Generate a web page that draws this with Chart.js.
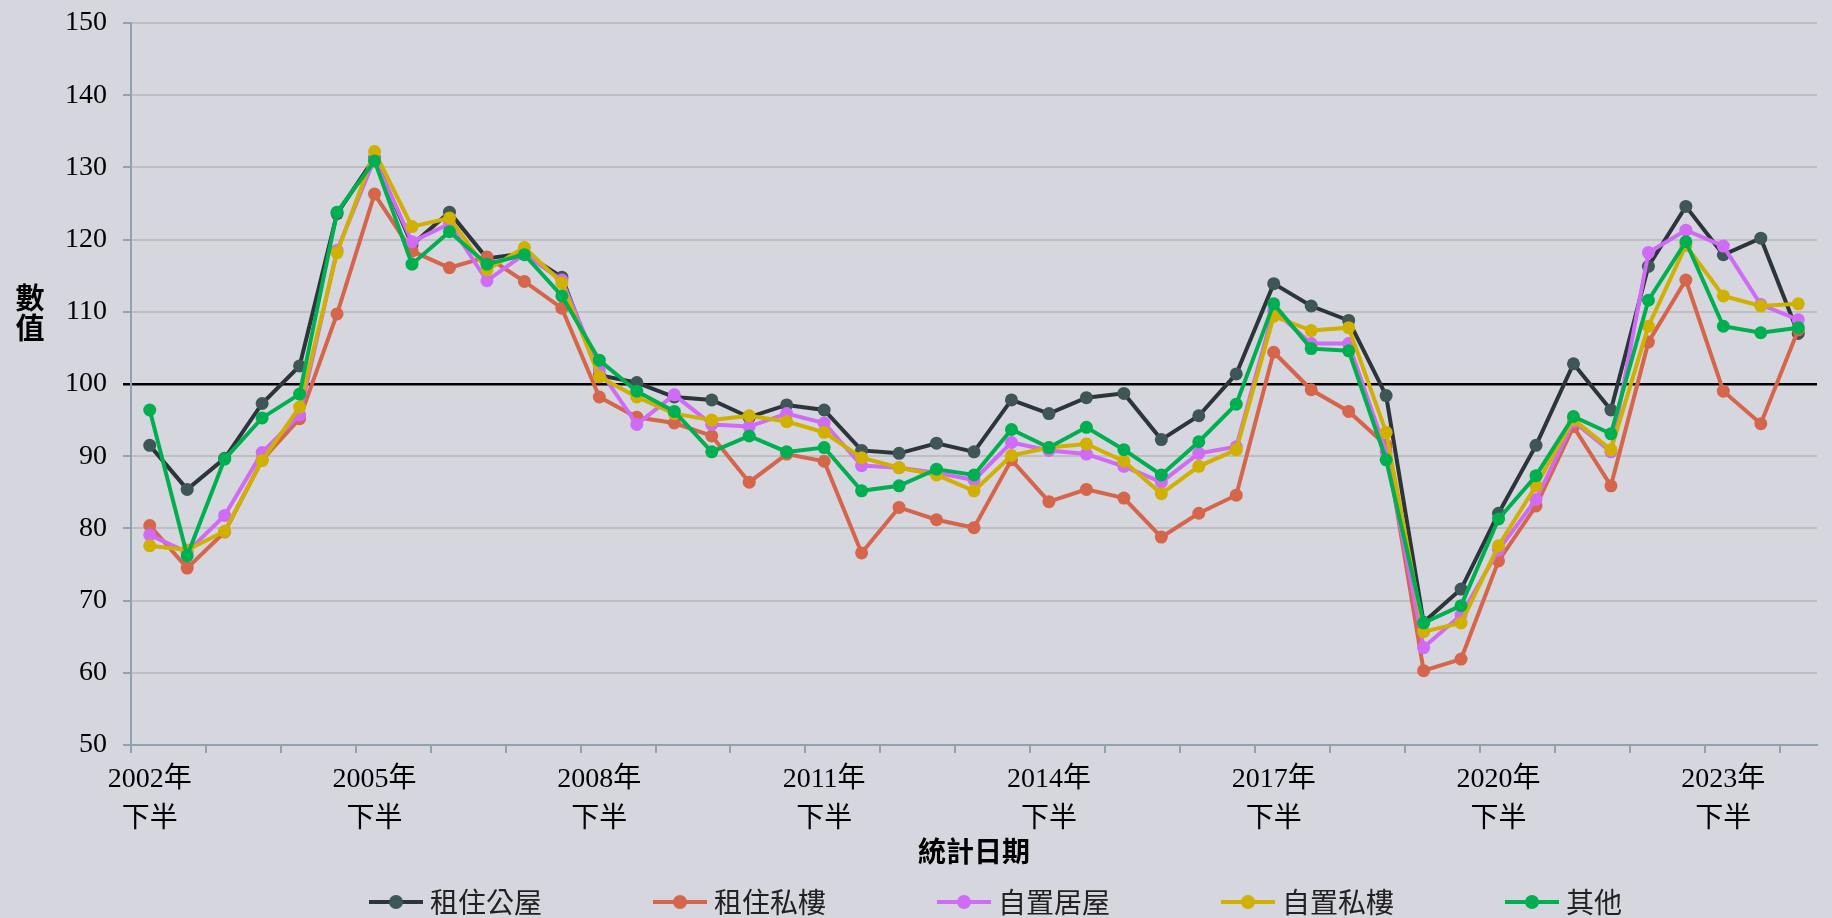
<!DOCTYPE html>
<html lang="zh-Hant">
<head>
<meta charset="UTF-8">
<title>數值 - 統計日期</title>
<style>
  html, body { margin: 0; padding: 0; background: #d5d6de; }
  #wrap { width: 1832px; height: 918px; position: relative; }
</style>
</head>
<body>
<div id="wrap"><canvas id="myChart"></canvas></div>

<script src="https://cdn.jsdelivr.net/npm/chart.js@4/dist/chart.umd.min.js"></script>
<script>
// categories: half-years from 2002 H2 to 2024 H2
var categories = [];
for (var y = 2002; y <= 2024; y++) {
    if (y > 2002) categories.push(y + '年上半');
    categories.push(y + '年下半');
}

var seriesNames = ['租住公屋', '租住私樓', '自置居屋', '自置私樓', '其他'];

var publicRent = [91.5, 85.4, 89.7, 97.3, 102.5, 123.6, 131.3, 119.3, 123.8, 117.4,
    118.1, 114.8, 101.2, 100.2, 98.2, 97.8, 95.4, 97.1, 96.4, 90.8,
    90.4, 91.8, 90.6, 97.8, 95.9, 98.1, 98.7, 92.3, 95.6, 101.4,
    113.9, 110.8, 108.8, 98.4, 67.0, 71.6, 82.1, 91.5, 102.8, 96.4,
    116.3, 124.6, 117.9, 120.2, 107.0];

var privateRent = [80.4, 74.5, 79.5, 89.5, 95.2, 109.7, 126.3, 118.4, 116.1, 117.6,
    114.2, 110.5, 98.2, 95.4, 94.6, 92.8, 86.4, 90.3, 89.3, 76.6,
    82.9, 81.2, 80.1, 89.5, 83.7, 85.4, 84.2, 78.8, 82.1, 84.6,
    104.4, 99.2, 96.2, 91.5, 60.3, 61.9, 75.5, 83.1, 94.1, 85.9,
    105.8, 114.4, 99.0, 94.5, 107.5];

var subsidisedOwn = [79.1, 76.7, 81.8, 90.5, 95.7, 118.5, 131.2, 119.7, 122.2, 114.3,
    118.0, 114.4, 102.0, 94.4, 98.5, 94.4, 94.1, 95.9, 94.6, 88.7,
    88.4, 87.7, 86.7, 91.9, 90.8, 90.3, 88.6, 86.4, 90.4, 91.3,
    110.2, 105.6, 105.6, 90.6, 63.5, 68.0, 77.0, 84.0, 94.8, 90.6,
    118.2, 121.3, 119.1, 111.0, 108.9];

var privateOwn = [77.6, 77.0, 79.6, 89.4, 96.8, 118.2, 132.2, 121.8, 123.0, 115.8,
    118.9, 114.0, 101.0, 98.2, 95.9, 95.0, 95.6, 94.8, 93.3, 89.8,
    88.4, 87.4, 85.2, 90.1, 91.2, 91.7, 89.3, 84.8, 88.6, 90.9,
    109.4, 107.4, 107.8, 93.3, 65.7, 66.9, 77.6, 85.9, 95.1, 90.9,
    108.0, 119.2, 112.2, 110.8, 111.1];

var others = [96.4, 76.2, 89.6, 95.3, 98.6, 123.8, 130.9, 116.6, 121.1, 116.6,
    117.9, 112.2, 103.3, 99.0, 96.2, 90.6, 92.8, 90.6, 91.2, 85.2,
    85.9, 88.2, 87.4, 93.7, 91.2, 94.0, 90.9, 87.4, 92.0, 97.2,
    111.1, 104.9, 104.6, 89.5, 66.9, 69.3, 81.3, 87.3, 95.5, 93.1,
    111.6, 119.7, 108.0, 107.1, 107.8];

var yTicks = [50, 60, 70, 80, 90, 100, 110, 120, 130, 140, 150];

var lineColors = ['#2c363a', '#d5654b', '#cf6bf5', '#d0b000', '#00b050'];
var dotColors  = ['#3e5656', '#d5654b', '#cf6bf5', '#d0b000', '#00b050'];
var allSeries = [publicRent, privateRent, subsidisedOwn, privateOwn, others];

var axisColor = '#8ea3ad';
var gridColor = '#bfbfc1';
var serif = "'Liberation Serif', 'Noto Sans CJK TC', serif";
var cjk = "'Noto Sans CJK TC', sans-serif";

// legend marker: line with a dot, padded on the left
function legendMarker(lineColor, dotColor) {
    var c = document.createElement('canvas');
    c.width = 170;
    c.height = 20;
    var g = c.getContext('2d');
    g.strokeStyle = lineColor;
    g.lineWidth = 4;
    g.beginPath();
    g.moveTo(116, 10);
    g.lineTo(170, 10);
    g.stroke();
    g.fillStyle = dotColor;
    g.beginPath();
    g.arc(143, 10, 7, 0, Math.PI * 2);
    g.fill();
    return c;
}
var markers = lineColors.map(function (c, i) { return legendMarker(c, dotColors[i]); });

var datasets = seriesNames.map(function (name, i) {
    return {
        label: name,
        data: allSeries[i],
        borderColor: lineColors[i],
        backgroundColor: dotColors[i],
        borderWidth: 4,
        pointRadius: 6.5,
        pointHoverRadius: 6.5,
        pointBackgroundColor: dotColors[i],
        pointBorderColor: dotColors[i],
        pointBorderWidth: 0,
        tension: 0,
        order: 5 - i
    };
});

var bgPlugin = {
    id: 'bg',
    beforeDraw: function (chart) {
        var ctx = chart.ctx;
        ctx.save();
        ctx.fillStyle = '#d5d6de';
        ctx.fillRect(0, 0, chart.width, chart.height);
        ctx.restore();
    }
};

// stacked vertical y-axis title
var yTitlePlugin = {
    id: 'yTitle',
    afterDraw: function (chart) {
        var ctx = chart.ctx;
        ctx.save();
        ctx.fillStyle = '#000';
        ctx.font = 'bold 29px ' + cjk;
        ctx.textAlign = 'center';
        ctx.textBaseline = 'middle';
        ctx.fillText('數', 30, 298);
        ctx.fillText('值', 30, 328);
        ctx.restore();
    }
};

var ctx = document.getElementById('myChart').getContext('2d');
var myChart = new Chart(ctx, {
    type: 'line',
    data: { labels: categories, datasets: datasets },
    plugins: [bgPlugin, yTitlePlugin],
    options: {
        responsive: true,
        maintainAspectRatio: false,
        animation: false,
        layout: { padding: { left: 65, right: 15, top: 23, bottom: -8 } },
        plugins: {
            tooltip: { enabled: false },
            legend: {
                position: 'bottom',
                labels: {
                    usePointStyle: true,
                    pointStyleWidth: 156,
                    padding: 2,
                    color: '#222',
                    font: { family: cjk, size: 28 },
                    generateLabels: function (chart) {
                        var items = Chart.defaults.plugins.legend.labels.generateLabels(chart);
                        items.sort(function (a, b) { return a.datasetIndex - b.datasetIndex; });
                        items.forEach(function (it) { it.pointStyle = markers[it.datasetIndex]; });
                        return items;
                    }
                }
            }
        },
        scales: {
            x: {
                offset: true,
                afterFit: function (scale) { scale.height = 141; },
                border: { display: true, color: axisColor, width: 2 },
                grid: {
                    offset: true,
                    drawOnChartArea: false,
                    drawTicks: true,
                    tickLength: 8,
                    lineWidth: 2,
                    color: function (c) { return c.index % 2 === 0 ? axisColor : 'rgba(0,0,0,0)'; }
                },
                ticks: {
                    autoSkip: false,
                    maxRotation: 0,
                    minRotation: 0,
                    padding: 7,
                    color: '#000',
                    font: { family: serif, size: 28, lineHeight: 40 / 28 },
                    callback: function (value, index) {
                        if (index % 6 !== 0) return '';
                        var lab = this.getLabelForValue(value);
                        return [lab.slice(0, 5), lab.slice(5)];
                    }
                },
                title: {
                    display: true,
                    text: '統計日期',
                    color: '#000',
                    font: { family: cjk, size: 28, weight: 'bold', lineHeight: 1 },
                    padding: { top: 0, bottom: 21 }
                }
            },
            y: {
                min: 50,
                max: 150,
                afterFit: function (scale) {
                    scale.width = 66;
                    scale.paddingTop = 10;
                    scale.paddingBottom = 10;
                },
                afterBuildTicks: function (scale) {
                    scale.ticks = yTicks.map(function (v) { return { value: v }; });
                },
                border: { display: true, color: axisColor, width: 2 },
                grid: {
                    drawTicks: true,
                    tickLength: 8,
                    color: function (c) { return c.tick && c.tick.value === 100 ? '#000' : gridColor; },
                    tickColor: function (c) { return c.tick && c.tick.value === 100 ? '#000' : axisColor; },
                    lineWidth: function (c) { return c.tick && c.tick.value === 100 ? 2.5 : 2; }
                },
                ticks: {
                    padding: 16,
                    color: '#000',
                    font: { family: serif, size: 28 }
                }
            }
        }
    }
});
</script>
</body>
</html>
